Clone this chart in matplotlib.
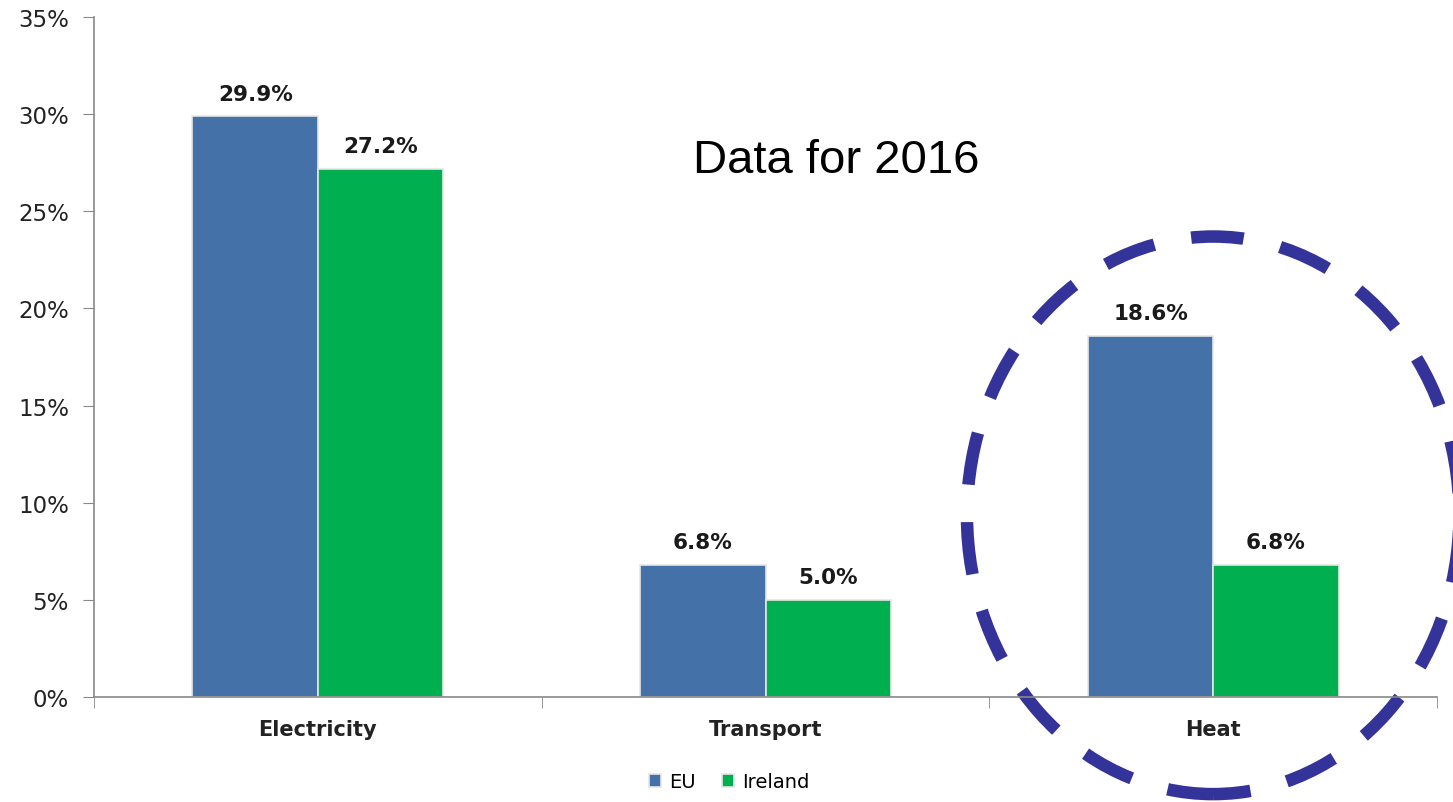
import matplotlib.pyplot as plt
import numpy as np
from matplotlib.patches import Ellipse
from matplotlib.ticker import FuncFormatter, FixedLocator

# Renewable energy share by sector, 2016
categories = ['Electricity', 'Transport', 'Heat']
eu_values = [29.9, 6.8, 18.6]
ireland_values = [27.2, 5.0, 6.8]
series_names = ['EU', 'Ireland']

plt.rcParams['font.family'] = ['DejaVu Sans']

fig = plt.figure(figsize=(14.53, 8.03), dpi=100)
ax = fig.add_axes([0.0647, 0.1308, 0.9243, 0.8468])

x = np.arange(len(categories))
w = 0.28
b1 = ax.bar(x - w / 2, eu_values, w, color='#4472A8', edgecolor='#e6e6e6',
            linewidth=1.2, label=series_names[0])
b2 = ax.bar(x + w / 2, ireland_values, w, color='#00B050', edgecolor='#e6e6e6',
            linewidth=1.2, label=series_names[1])

for bars in (b1, b2):
    for rect in bars:
        ax.annotate(f'{rect.get_height():.1f}%',
                    (rect.get_x() + rect.get_width() / 2, rect.get_height()),
                    xytext=(0, 9), textcoords='offset points',
                    ha='center', va='bottom', fontsize=15.5, fontweight='bold',
                    color='#1a1a1a')

ax.set_xlim(-0.5, len(categories) - 0.5)
ax.set_ylim(0, 35)
ax.set_yticks(np.arange(0, 36, 5))
ax.yaxis.set_major_formatter(FuncFormatter(lambda v, p: f'{v:.0f}%'))
ax.tick_params(axis='y', labelsize=16.5, length=8, color='#888888',
               labelcolor='#222222', pad=10)

ax.set_xticks(x)
ax.set_xticklabels(categories, fontsize=15, fontweight='bold', color='#222222')
ax.tick_params(axis='x', length=0, pad=16)
ax.xaxis.set_minor_locator(FixedLocator(np.arange(-0.5, len(categories), 1.0)))
ax.tick_params(axis='x', which='minor', length=8, color='#888888')

for s in ['top', 'right']:
    ax.spines[s].set_visible(False)
for s in ['left', 'bottom']:
    ax.spines[s].set_color('#888888')
    ax.spines[s].set_linewidth(1.2)

ax.text(0.5525, 0.79, 'Data for 2016', transform=ax.transAxes,
        fontsize=34, ha='center', va='center', color='black',
        family='Liberation Sans')

# dashed highlight around the Heat group
ell = Ellipse((2, 9.35), 1.10, 28.7, fill=False, edgecolor='#333399',
              linewidth=9, linestyle=(1.2, (4.2, 3.0)), clip_on=False)
ax.add_patch(ell)

leg = ax.legend(loc='upper center', bbox_to_anchor=(0.473, -0.085), ncol=2,
                frameon=False, fontsize=14, handlelength=0.6, handleheight=0.6,
                handletextpad=0.4, columnspacing=1.4)

fig.savefig('out.png', dpi=100)
